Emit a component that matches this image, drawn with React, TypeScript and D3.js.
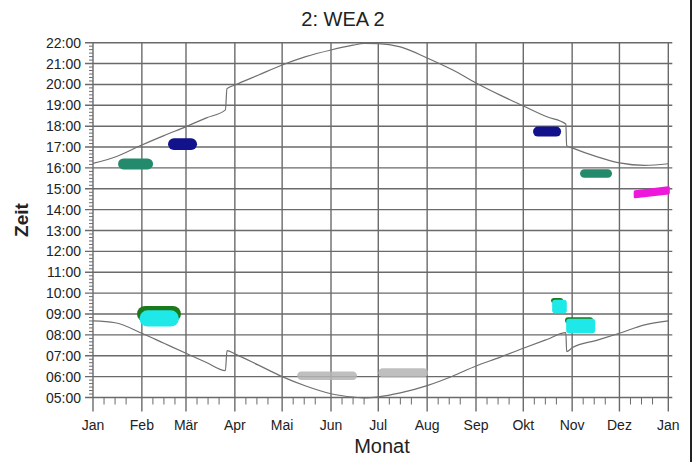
import React from "react";
import * as d3 from "d3";

const title = "2: WEA 2";
const monthLabels = ["Jan", "Feb", "Mär", "Apr", "Mai", "Jun", "Jul", "Aug", "Sep", "Okt", "Nov", "Dez", "Jan"];
const monthStartDays = [0, 31, 59, 90, 120, 151, 181, 212, 243, 273, 304, 334, 365];
const hourTicks = d3.range(5, 23);

// sunset curve [dayOfYear, hour]
const sunsetDays = [0, 15, 31, 45, 59, 72, 84, 85, 90, 105, 120, 135, 151, 165, 172, 181, 195, 212, 228, 243, 258, 273, 288, 300, 300.5, 304, 320, 334, 350, 365];
const sunsetHours = [16.22, 16.55, 17.1, 17.55, 17.98, 18.4, 18.78, 19.8, 19.97, 20.45, 20.93, 21.33, 21.65, 21.88, 21.97, 21.96, 21.8, 21.27, 20.7, 20.07, 19.5, 18.97, 18.45, 18.1, 17.07, 16.96, 16.53, 16.24, 16.12, 16.2];
// sunrise curve [dayOfYear, hour]
const sunriseDays = [0, 14, 31, 45, 59, 72, 84, 85, 90, 105, 120, 135, 151, 165, 172, 181, 195, 212, 228, 243, 258, 273, 288, 300, 300.5, 304, 320, 334, 350, 365];
const sunriseHours = [8.67, 8.58, 8.08, 7.6, 7.12, 6.68, 6.29, 7.25, 7.09, 6.55, 6.0, 5.55, 5.18, 5.02, 4.98, 5.03, 5.22, 5.57, 6.02, 6.51, 6.92, 7.36, 7.78, 8.11, 7.2, 7.38, 7.75, 8.08, 8.48, 8.67];

// shadow periods: start day, end day, top hour, bottom hour, colour, kind
const blobStart = [15.9, 47.6, 27.9, 29.5, 129.5, 181, 279.2, 309, 290.6, 291.3, 299.5, 300.2];
const blobEnd = [38.1, 66, 55.8, 54.5, 167.5, 212.6, 297, 329.3, 298.3, 300.6, 317.3, 318.6];
const blobTop = [16.45, 17.42, 9.39, 9.18, 6.24, 6.4, 17.98, 15.94, 9.77, 9.68, 8.85, 8.77];
const blobBottom = [15.93, 16.86, 8.62, 8.4, 5.84, 5.97, 17.5, 15.53, 9.53, 9.04, 8.55, 8.08];
const blobColor = ["#238a6c", "#12128c", "#1c7a1c", "#1ee8e8", "#b4b4b4", "#b4b4b4", "#12128c", "#238a6c", "#1c7a1c", "#1ee8e8", "#1c7a1c", "#1ee8e8"];
const blobKind = ["pill", "pill", "pill", "pill", "pill", "pill", "pill", "pill", "block", "block", "block", "block"];

// slanted magenta period (December)
const magDays = [344, 365, 365, 344];
const magHours = [14.86, 15.05, 14.8, 14.62];

export default function App() {
  const W = 699, H = 462;
  const x = d3.scaleLinear().domain([0, 365]).range([93, 668.3]);
  const y = d3.scaleLinear().domain([5, 22]).range([397.5, 42.7]);
  const grid = "#6a6a6a";
  const font = "'Liberation Sans', Arial, sans-serif";

  const sunsetLine = d3.line<number>().x((d) => x(sunsetDays[d])).y((d) => y(sunsetHours[d])).curve(d3.curveMonotoneX);
  const sunriseLine = d3.line<number>().x((d) => x(sunriseDays[d])).y((d) => y(sunriseHours[d])).curve(d3.curveMonotoneX);
  const magPath = d3.line<number>().x((d) => x(magDays[d])).y((d) => y(magHours[d])).curve(d3.curveLinearClosed)(d3.range(magDays.length));

  const minorY: number[] = [];
  for (let h = 5; h < 22; h++) for (let m = 1; m < 6; m++) minorY.push(h + m / 6);
  const minorX: number[] = [];
  monthStartDays.slice(0, 12).forEach((d) => [7, 14, 21].forEach((k) => minorX.push(d + k)));

  const left = x(0), right = x(365) + 4;
  const top = y(22), bottom = y(5);

  return (
    <svg width={W} height={H} style={{ display: "block", position: "absolute", left: 0, top: 0, background: "#fff" }}>
      <rect x={0} y={0} width={W} height={H} fill="#fff" />
      <text x={343} y={26} textAnchor="middle" fontFamily={font} fontSize={20} fill="#222">{title}</text>

      {/* horizontal grid + y ticks */}
      {hourTicks.map((h) => (
        <g key={"h" + h}>
          <line x1={left - 8} x2={right} y1={y(h)} y2={y(h)} stroke={grid} strokeWidth={1.4} />
          <text x={81} y={y(h)} dy="0.36em" textAnchor="end" fontFamily={font} fontSize={14} fill="#222">
            {(h < 10 ? "0" : "") + h + ":00"}
          </text>
        </g>
      ))}
      {minorY.map((h, i) => (
        <line key={"my" + i} x1={left - 4} x2={left} y1={y(h)} y2={y(h)} stroke={grid} strokeWidth={1} />
      ))}

      {/* vertical grid + x ticks */}
      {monthStartDays.map((d, i) => (
        <g key={"m" + i}>
          <line x1={x(d)} x2={x(d)} y1={top} y2={bottom + 14} stroke={grid} strokeWidth={1.4} />
          <text x={x(d)} y={430} textAnchor="middle" fontFamily={font} fontSize={14} fill="#222">{monthLabels[i]}</text>
        </g>
      ))}
      {minorX.map((d, i) => (
        <line key={"mx" + i} x1={x(d)} x2={x(d)} y1={bottom} y2={bottom + 7} stroke={grid} strokeWidth={1} />
      ))}

      {/* sunrise / sunset */}
      <path d={sunsetLine(d3.range(sunsetDays.length)) || ""} fill="none" stroke="#707070" strokeWidth={1.2} />
      <path d={sunriseLine(d3.range(sunriseDays.length)) || ""} fill="none" stroke="#707070" strokeWidth={1.2} />

      {/* shadow periods */}
      {blobStart.map((s, i) => {
        const x0 = x(s), x1 = x(Math.min(blobEnd[i], 365));
        const y0 = y(blobTop[i]), y1 = y(blobBottom[i]);
        const hgt = y1 - y0;
        const rx = blobKind[i] === "pill" ? Math.min(hgt / 2, (x1 - x0) / 2) : 3;
        return (
          <rect key={"b" + i} x={x0} y={y0} width={x1 - x0} height={hgt} rx={rx}
            fill={blobColor[i]} opacity={blobColor[i] === "#b4b4b4" ? 0.85 : 1} />
        );
      })}
      <path d={magPath || ""} fill="#ee18dc" stroke="#ee18dc" strokeWidth={3} strokeLinejoin="round" />

      {/* axis titles */}
      <text transform="translate(28,220) rotate(-90)" textAnchor="middle" fontFamily={font} fontSize={19} fontWeight="bold" fill="#222">Zeit</text>
      <text x={382} y={453} textAnchor="middle" fontFamily={font} fontSize={20} fill="#222">Monat</text>

      {/* frame edge */}
      <line x1={691} x2={691} y1={0} y2={H} stroke="#222" strokeWidth={2} />
    </svg>
  );
}
